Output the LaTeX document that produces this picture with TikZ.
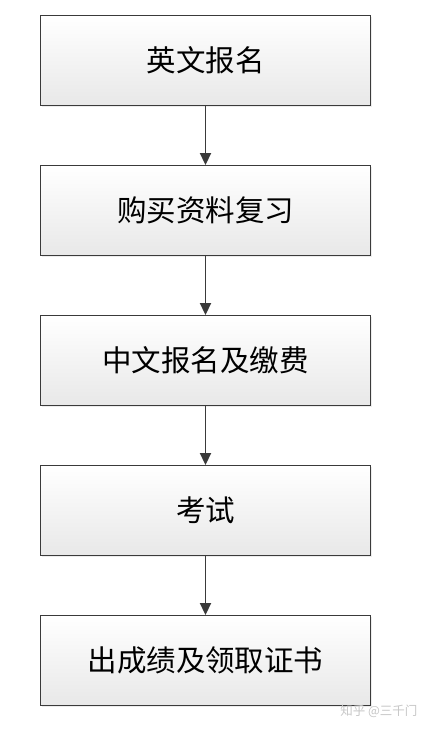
\documentclass[tikz,border=0pt]{standalone}
\usepackage{fontspec}
\newfontfamily\cjk{Noto Sans CJK SC}
\usetikzlibrary{arrows.meta,shadows}
\definecolor{edge}{HTML}{3A3A3A}
\tikzset{
  stepbox/.style={draw=edge, line width=0.9pt, minimum width=330pt, minimum height=90pt,
    top color=white, bottom color=black!9, inner sep=0pt,
    font=\cjk\fontsize{29.5}{32}\selectfont,
    drop shadow={shadow xshift=1.5pt, shadow yshift=-1.5pt, opacity=0.15}},
  flow/.style={draw=edge, line width=1.8pt, -{Triangle[length=12pt,width=11pt]}},
}
\begin{document}
\begin{tikzpicture}[x=1pt,y=1pt]
\useasboundingbox (0,0) rectangle (429,-729);
\fill[white] (0,0) rectangle (429,-729);
\node[stepbox] (s1) at (205.5,-60.5) {\raisebox{1.5pt}{英文报名}};
\node[stepbox] (s2) at (205.5,-210.5) {\raisebox{1.5pt}{购买资料复习}};
\node[stepbox] (s3) at (205.5,-360.5) {\raisebox{1.5pt}{中文报名及缴费}};
\node[stepbox] (s4) at (205.5,-510.5) {\raisebox{1.5pt}{考试}};
\node[stepbox] (s5) at (205.5,-660.5) {\raisebox{1.5pt}{出成绩及领取证书}};
\draw[flow] (s1) -- (s2);
\draw[flow] (s2) -- (s3);
\draw[flow] (s3) -- (s4);
\draw[flow] (s4) -- (s5);
\node[text=black!22, font=\cjk\fontsize{12.5}{14}\selectfont, anchor=east] (wm) at (421,-711) {知乎 @三千门};
\end{tikzpicture}
\end{document}
